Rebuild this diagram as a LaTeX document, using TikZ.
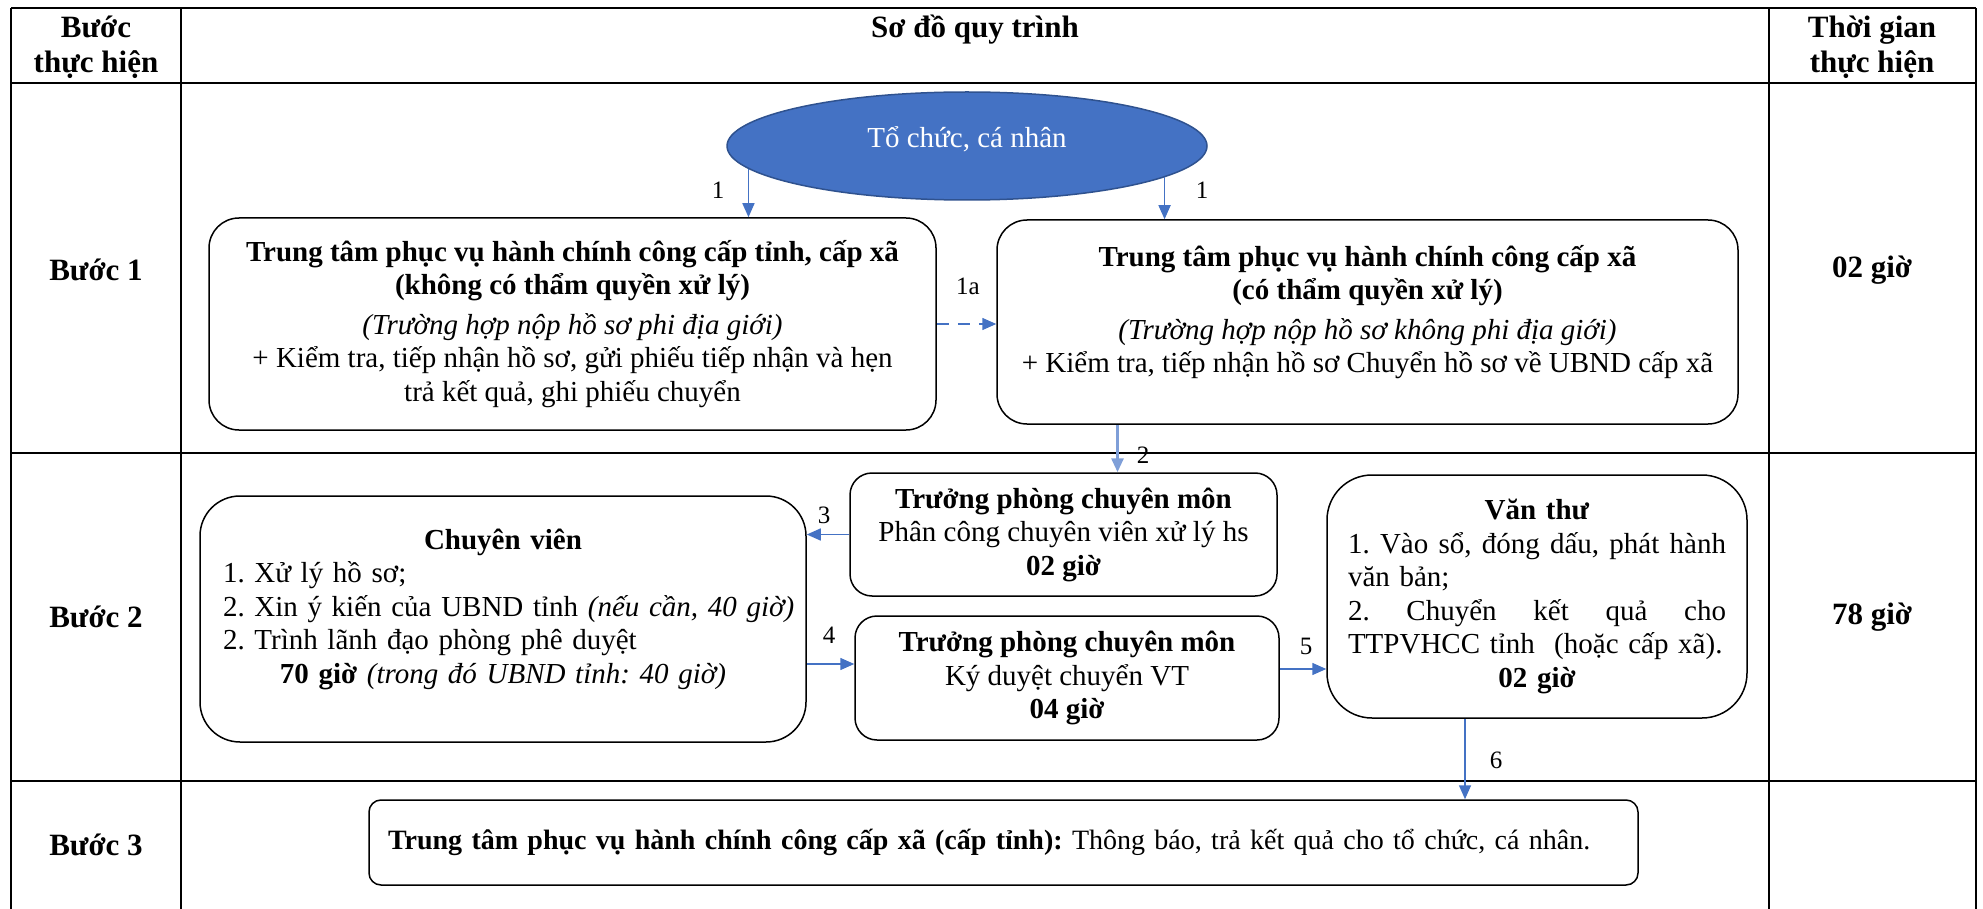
\documentclass[tikz,border=0pt]{standalone}
\usepackage{fontspec}
\setmainfont{Liberation Serif}
\usetikzlibrary{shapes.geometric}
\usetikzlibrary{arrows.meta}
\definecolor{fillblue}{HTML}{4472C4}
\definecolor{edgeblue}{HTML}{2F528F}
\definecolor{paleblue}{HTML}{7F9FD8}
\frenchspacing

\begin{document}
\begin{tikzpicture}
[x=1pt, y=-1pt,
every node/.style = {align=center, inner sep=0pt, font=\fontsize{29}{33.5}\selectfont}]
\tikzstyle{grid} = [line width=2pt, black]
\tikzstyle{head} = [font=\fontsize{31}{35}\selectfont\bfseries]
\tikzstyle{start} = [ellipse, draw=edgeblue, line width=1.5pt, fill=fillblue, text=white, text depth=18pt, minimum width=480pt, minimum height=108pt]
\tikzstyle{task} = [rectangle, draw=black, line width=1.5pt, rounded corners=30pt]
\tikzstyle{flow} = [draw=fillblue, line width=1.5pt, -{Triangle[length=14pt,width=12pt]}]
\tikzstyle{num} = [font=\fontsize{25}{30}\selectfont]

\useasboundingbox (0,0) rectangle (1983,909);

\foreach \y in {8,83,453,781}
  \draw[grid] (11,\y) -- (1976,\y);
\foreach \x in {11,181,1769,1976}
  \draw[grid] (\x,8) -- (\x,909);

\node[head] (h1) at (96,47.5) {Bước\\thực hiện};
\node[head] (h2) at (975,30) {Sơ đồ quy trình};
\node[head] (h3) at (1872,47.5) {Thời gian\\thực hiện};
\node[head] (s1) at (96,270) {Bước 1};
\node[head] (s2) at (96,617) {Bước 2};
\node[head] (s3) at (96,845) {Bước 3};
\node[head] (t1) at (1872,270) {02 giờ};
\node[head] (t2) at (1872,617) {78 giờ};

\node[start] (client) at (967,146) {Tổ chức, cá nhân};

\node[task, minimum width=727pt, minimum height=212pt] (ctrA) at (572.5,324)
  {\textbf{Trung tâm phục vụ hành chính công cấp tỉnh, cấp xã}\\
   \textbf{(không có thẩm quyền xử lý)}\\[6pt]
   \textit{(Trường hợp nộp hồ sơ phi địa giới)}\\
   + Kiểm tra, tiếp nhận hồ sơ, gửi phiếu tiếp nhận và hẹn\\
   trả kết quả, ghi phiếu chuyển};
\node[task, minimum width=741pt, minimum height=204pt] (ctrB) at (1367.5,322)
  {\textbf{Trung tâm phục vụ hành chính công cấp xã}\\
   \textbf{(có thẩm quyền xử lý)}\\[6pt]
   \textit{(Trường hợp nộp hồ sơ không phi địa giới)}\\
   + Kiểm tra, tiếp nhận hồ sơ Chuyển hồ sơ về UBND cấp xã\\[-17pt]
   \strut};

\node[task, rounded corners=22pt, minimum width=427pt, minimum height=123pt] (lead1) at (1063.5,534.5)
  {\textbf{Trưởng phòng chuyên môn}\\ Phân công chuyên viên xử lý hs\\ \textbf{02 giờ}};
\node[task, rounded corners=22pt, minimum width=424pt, minimum height=124pt] (lead2) at (1067,678)
  {\textbf{Trưởng phòng chuyên môn}\\ Ký duyệt chuyển VT\\ \textbf{04 giờ}};

\node[task, rounded corners=40pt, minimum width=606pt, minimum height=246pt, text width=560pt, align=left] (staff) at (503,619)
  {\hfill\textbf{Chuyên viên}\hfill\null\\
   1. Xử lý hồ sơ;\\
   \mbox{2. Xin ý kiến của UBND tỉnh \textit{(nếu cần, 40 giờ)}}\\
   2. Trình lãnh đạo phòng phê duyệt\\
   \hfill\textbf{70 giờ} \textit{(trong đó UBND tỉnh: 40 giờ)}\hfill\null\\[-18pt]
   \strut};

\node[task, rounded corners=45pt, minimum width=420pt, minimum height=243pt, text width=378pt, align=left] (clerk) at (1537,596.5)
  {\hfill\textbf{Văn thư}\hfill\null\\
   1.\hfill Vào\hfill sổ,\hfill đóng\hfill dấu,\hfill phát\hfill hành\\
   văn bản;\\
   2.\hfill Chuyển\hfill kết\hfill quả\hfill cho\\
   \mbox{TTPVHCC tỉnh~ (hoặc cấp xã).}\\
   \hfill\textbf{02 giờ}\hfill\null};

\node[task, rounded corners=12pt, minimum width=1269pt, minimum height=85pt, text width=1231pt, align=left,
  font=\fontsize{28}{33.5}\selectfont] (ctr3) at (1003.5,842.5)
  {\textbf{Trung tâm phục vụ hành chính công cấp xã (cấp tỉnh):} Thông báo, trả kết quả cho tổ chức, cá nhân.};

\draw[flow] (client.186) -- (client.186 |- ctrA.north);
\draw[flow] (client.351) -- (client.351 |- ctrB.north);
\draw[flow, dashed, dash pattern=on 12pt off 9pt] (ctrA.east) -- (ctrA.east -| ctrB.west);
\draw[flow, draw=paleblue, line width=3pt] ([xshift=54pt]lead1.north |- ctrB.south) -- ([xshift=54pt]lead1.north);
\draw[flow] (lead1.west) -- (lead1.west -| staff.east);
\draw[flow] ([yshift=-45pt]staff.east) -- ([yshift=-45pt]staff.east -| lead2.west);
\draw[flow] ([yshift=9pt]lead2.east) -- ([yshift=9pt]lead2.east -| clerk.west);
\draw[flow] ([xshift=-72pt]clerk.south) -- ([xshift=-72pt]clerk.south |- ctr3.north);

\node[num] (n1) at (718,190) {1};
\node[num] (n2) at (1202,190) {1};
\node[num] (n3) at (968,286) {1a};
\node[num] (n4) at (1143,455) {2};
\node[num] (n5) at (824,515) {3};
\node[num] (n6) at (829,635) {4};
\node[num] (n7) at (1306,646) {5};
\node[num] (n8) at (1496,760) {6};

\end{tikzpicture}
\end{document}
